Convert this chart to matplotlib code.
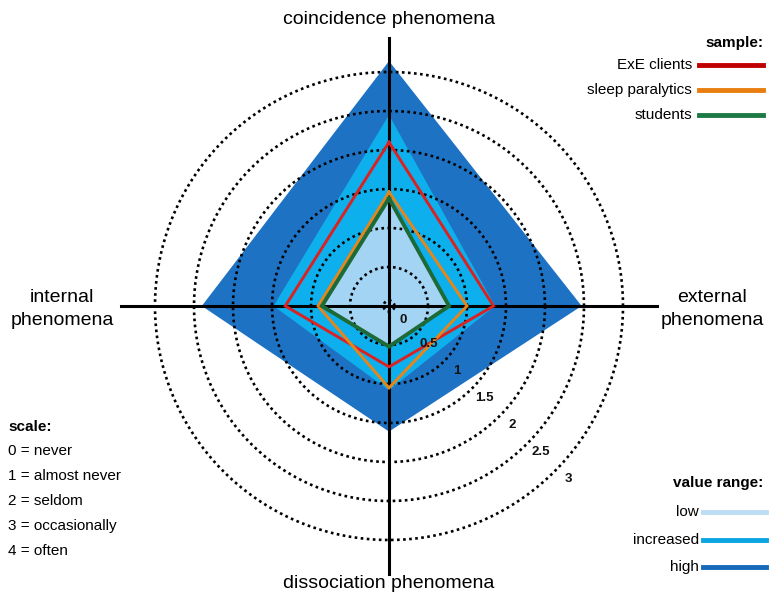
import numpy as np
import matplotlib.pyplot as plt
from matplotlib.lines import Line2D

plt.rcParams["font.family"] = ["Liberation Sans", "DejaVu Sans"]

# axis order: up, right, down, left
axis_names = ["coincidence phenomena", "external\nphenomena",
              "dissociation phenomena", "internal\nphenomena"]
axis_angles = [90, 0, -90, 180]

# reference value ranges
range_high = [3.14, 2.47, 1.61, 2.40]
range_increased = [2.45, 1.36, 1.08, 1.48]
range_low = [1.35, 0.76, 0.50, 0.84]

# samples
exe_clients = [2.10, 1.34, 0.78, 1.33]
sleep_paralytics = [1.46, 1.00, 1.05, 0.91]
students = [1.38, 0.77, 0.52, 0.86]

ring_values = [0, 0.5, 1, 1.5, 2, 2.5, 3]
ring_labels = ["0", "0.5", "1", "1.5", "2", "2.5", "3"]

scale_lines = ["0 = never", "1 = almost never", "2 = seldom",
               "3 = occasionally", "4 = often"]

W, H = 769, 596
cx, cy = 389, 306
unit = 78.0

fig = plt.figure(figsize=(W / 100, H / 100), dpi=100)
ax = fig.add_axes([0, 0, 1, 1])
ax.set_xlim(-cx / unit, (W - cx) / unit)
ax.set_ylim(-(H - cy) / unit, cy / unit)
ax.axis("off")

ang = np.radians(axis_angles)


def diamond(vals):
    v = np.append(vals, vals[0])
    a = np.append(ang, ang[0])
    return v * np.cos(a), v * np.sin(a)


# value range areas
for vals, col, z in [(range_high, "#1E72C4", 1),
                     (range_increased, "#0DAFEC", 2),
                     (range_low, "#A3D4F4", 3)]:
    x, y = diamond(vals)
    ax.fill(x, y, color=col, lw=0, zorder=z)

# dotted rings
t = np.linspace(0, 2 * np.pi, 500)
for v in ring_values:
    r = max(v, 0.07)
    ax.plot(r * np.cos(t), r * np.sin(t), color="black", lw=1.9,
            ls=(0, (1, 1.3)), zorder=4)

# axes cross
L = 3.43
ax.plot([0, 0], [-L, L], color="black", lw=2.2, zorder=5)
ax.plot([-L, L], [0, 0], color="black", lw=2.2, zorder=5)

# sample polygons
for vals, col, lw in [(exe_clients, "#DA2222", 2.1),
                      (sleep_paralytics, "#E6861A", 2.1),
                      (students, "#1D6A36", 2.8)]:
    x, y = diamond(vals)
    ax.plot(x, y, color=col, lw=lw, zorder=6, solid_joinstyle="miter")

# ring labels
la = np.radians(-44)
for v, lab in zip(ring_values, ring_labels):
    r = max(v, 0.06) + 0.2
    ax.text(r * np.cos(la), r * np.sin(la), lab, ha="center", va="center",
            fontsize=9.5, fontweight="bold", color="#111111", zorder=7)


def px(x, y):
    return x / W, 1 - y / H


# axis titles
fig.text(*px(389, 19), axis_names[0], ha="center", va="center", fontsize=14)
fig.text(*px(712, 309), axis_names[1], ha="center", va="center", fontsize=14,
         linespacing=1.45)
fig.text(*px(389, 583), axis_names[2], ha="center", va="center", fontsize=14)
fig.text(*px(62, 309), axis_names[3], ha="center", va="center", fontsize=14,
         linespacing=1.45)

# sample legend
fig.text(*px(763, 43), "sample:", ha="right", va="center", fontsize=11,
         fontweight="bold")
for name, col, yy in [("ExE clients", "#C00000", 65),
                      ("sleep paralytics", "#E87D10", 90),
                      ("students", "#1E7A45", 115)]:
    fig.text(*px(692, yy), name, ha="right", va="center", fontsize=11)
    x0, y0 = px(699, yy)
    x1, _ = px(763, yy)
    fig.add_artist(Line2D([x0, x1], [y0, y0], color=col, lw=3.5))

# value range legend
fig.text(*px(763, 483), "value range:", ha="right", va="center", fontsize=11,
         fontweight="bold")
for name, col, yy in [("low", "#BCDDF3", 512),
                      ("increased", "#0AA5E0", 540),
                      ("high", "#1668BA", 567)]:
    fig.text(*px(699, yy), name, ha="right", va="center", fontsize=11)
    x0, y0 = px(703, yy)
    x1, _ = px(766, yy)
    fig.add_artist(Line2D([x0, x1], [y0, y0], color=col, lw=3.5))

# scale legend
fig.text(*px(8, 427), "scale:", ha="left", va="center", fontsize=11,
         fontweight="bold")
for i, s in enumerate(scale_lines):
    fig.text(*px(8, 451 + 25 * i), s, ha="left", va="center", fontsize=11)

fig.savefig("out.png", dpi=100)
